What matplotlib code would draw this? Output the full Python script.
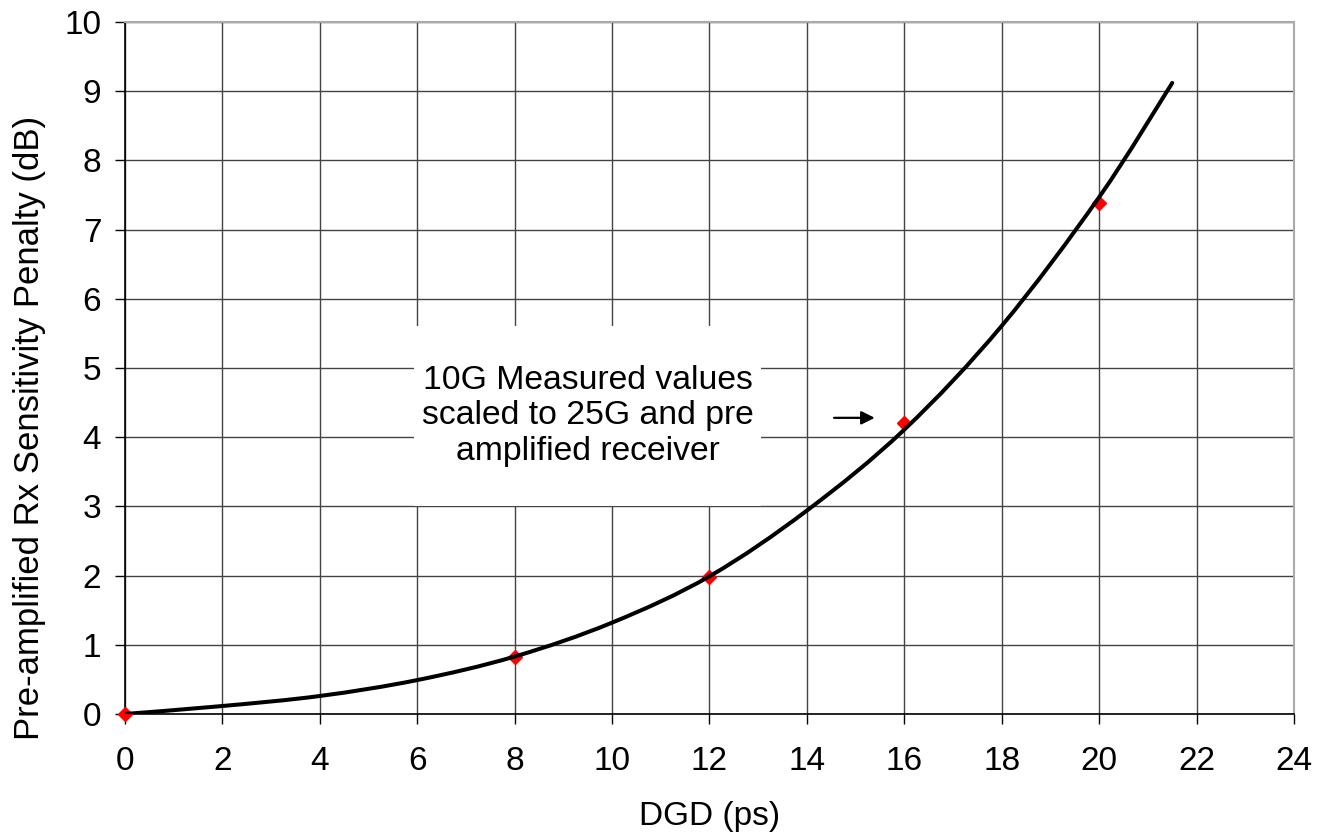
import matplotlib
matplotlib.use("Agg")
import numpy as np
import matplotlib.pyplot as plt
from matplotlib.patches import Rectangle, PathPatch
from matplotlib.path import Path

plt.rcParams['font.family'] = ['Liberation Sans', 'DejaVu Sans']

# fitted penalty curve
curve_dgd = [0, 2, 4, 6, 8, 10, 12, 14, 16, 18, 20, 21.5]
curve_penalty = [0.0, 0.115, 0.26, 0.49, 0.83, 1.32, 1.99, 2.94, 4.11, 5.61, 7.47, 9.12]

# measured points (red diamonds)
meas_dgd = [0, 8, 12, 16, 20]
meas_penalty = [0.0, 0.83, 1.98, 4.21, 7.39]

x_ticks = list(range(0, 25, 2))
y_ticks = list(range(0, 11))

note = "10G Measured values\nscaled to 25G and pre\namplified receiver"


def smooth_path(xs, ys):
    # Excel-style smoothed line: bezier segments through the points
    pts = np.column_stack([xs, ys]).astype(float)
    n = len(pts)
    verts = [pts[0]]
    codes = [Path.MOVETO]
    for i in range(n - 1):
        p0 = pts[max(i - 1, 0)]
        p1 = pts[i]
        p2 = pts[i + 1]
        p3 = pts[min(i + 2, n - 1)]
        verts += [p1 + (p2 - p0) / 6, p2 - (p3 - p1) / 6, p2]
        codes += [Path.CURVE4] * 3
    return Path(verts, codes)


fig = plt.figure(figsize=(13.18, 8.38), dpi=100)
ax = fig.add_axes([0.0948, 0.148, 0.887, 0.8257])

ax.set_xlim(0, 24)
ax.set_ylim(0, 10)
ax.set_xticks(x_ticks)
ax.set_yticks(y_ticks)
ax.grid(True, color='#444444', lw=1.0, zorder=0)
ax.set_axisbelow(True)

ax.plot(meas_dgd, meas_penalty, ls='none', marker='D', ms=7.5, color='#ff0000',
        mec='#ff0000', zorder=3, clip_on=False)
ax.add_patch(PathPatch(smooth_path(curve_dgd, curve_penalty), fill=False,
                       edgecolor='black', lw=2.9, capstyle='round', zorder=4))

# white box hiding the grid behind the note
ax.add_patch(Rectangle((0.247, 0.3006), 0.297, 0.2601, transform=ax.transAxes,
                       facecolor='white', edgecolor='none', zorder=2))
ax.text(0.396, 0.431, note, transform=ax.transAxes, ha='center', va='center',
        fontsize=24.3, linespacing=1.18, zorder=5)
ax.annotate('', xy=(15.45, 4.28), xytext=(14.5, 4.28),
            arrowprops=dict(arrowstyle='-|>', color='black', lw=1.6, mutation_scale=20),
            zorder=5)

for s in ['left', 'bottom']:
    ax.spines[s].set_color('black')
    ax.spines[s].set_linewidth(1.2)
for s in ['top', 'right']:
    ax.spines[s].set_color('#aaaaaa')
    ax.spines[s].set_linewidth(1.5)

ax.tick_params(axis='both', direction='out', length=7, width=1, labelsize=24, color='black')
ax.tick_params(axis='x', pad=16)
ax.tick_params(axis='y', pad=10)

ax.set_xlabel('DGD (ps)', fontsize=24, labelpad=17)
ax.set_ylabel('Pre-amplified Rx Sensitivity Penalty (dB)', fontsize=25, labelpad=13)
ax.yaxis.label.set_y(0.413)

fig.savefig('out.png', dpi=100)
